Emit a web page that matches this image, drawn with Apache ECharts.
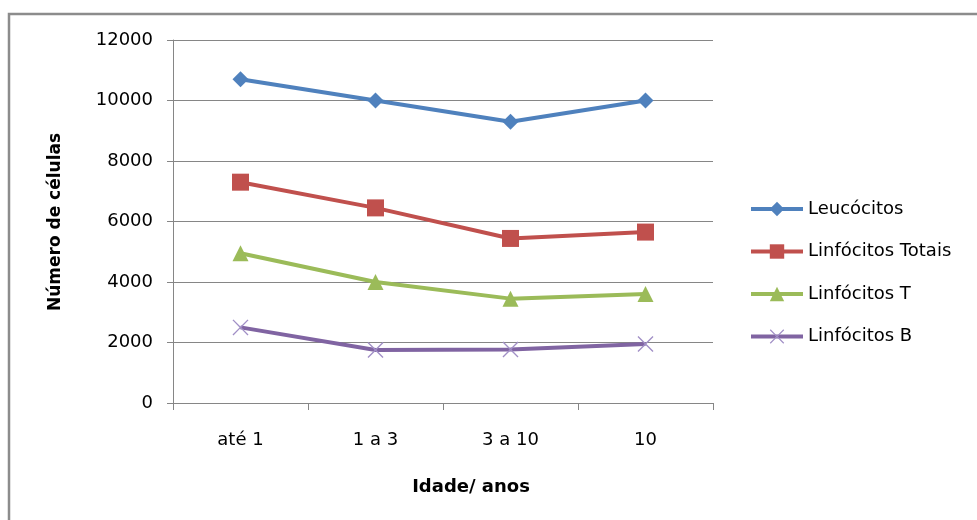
<!DOCTYPE html>
<html>
<head>
<meta charset="utf-8">
<script src="https://cdn.jsdelivr.net/npm/echarts@6/dist/echarts.min.js"></script>
<style>html,body{margin:0;padding:0;background:#fff}#c{width:977px;height:520px}</style>
</head>
<body>
<div id="c"></div>
<script>
const categories = ['até 1', '1 a 3', '3 a 10', '10'];
const leucocitos = [10700, 10000, 9300, 10000];
const linfTotais = [7300, 6450, 5440, 5650];
const linfT = [4950, 4000, 3450, 3600];
const linfB = [2500, 1750, 1770, 1950];
const seriesNames = ['Leucócitos', 'Linfócitos Totais', 'Linfócitos T', 'Linfócitos B'];

const FONT = 'DejaVu Sans';
const xSym = 'path://M0,0.6 L0.6,0 L5,4.4 L9.4,0 L10,0.6 L5.6,5 L10,9.4 L9.4,10 L5,5.6 L0.6,10 L0,9.4 L4.4,5 Z';

function mk(name, data, color, symbol, size, symColor) {
  return {
    name, type: 'line', data, symbol, symbolSize: size,
    lineStyle: { color, width: 4 },
    itemStyle: { color: symColor || color },
    emphasis: { disabled: true },
    z: 3
  };
}

const chart = echarts.init(document.getElementById('c'));
chart.setOption({
  animation: false,
  backgroundColor: '#fff',
  graphic: [
    { type: 'rect', shape: { x: 9, y: 14, width: 1000, height: 600 },
      style: { fill: 'none', stroke: '#8c8c8c', lineWidth: 2.5 }, z: -1 },
    { type: 'text', x: 56, y: 222, rotation: Math.PI / 2,
      style: { text: 'Número de células', fontFamily: FONT, fontSize: 17, fontWeight: 'bold',
               fill: '#000', textAlign: 'center', textVerticalAlign: 'middle' } }
  ],
  title: [
    { text: 'Idade/ anos', left: 466, top: 473, textAlign: 'center',
      textStyle: { fontFamily: FONT, fontSize: 18, fontWeight: 'bold', color: '#000' } }
  ],
  grid: { left: 173, top: 40, width: 540, height: 363, containLabel: false },
  legend: {
    orient: 'vertical', left: 749, top: 200, padding: 0,
    itemWidth: 52, itemHeight: 18, itemGap: 24.5,
    data: seriesNames,
    lineStyle: { width: 4 },
    textStyle: { fontFamily: FONT, fontSize: 18, color: '#000' },
    selectedMode: false
  },
  xAxis: {
    type: 'category', data: categories, boundaryGap: true,
    axisLine: { lineStyle: { color: '#868686', width: 1 } },
    axisTick: { show: true, length: 7, lineStyle: { color: '#868686' } },
    axisLabel: { fontFamily: FONT, fontSize: 18, color: '#000', margin: 28 }
  },
  yAxis: {
    type: 'value', min: 0, max: 12000, interval: 2000,
    axisLine: { show: true, lineStyle: { color: '#868686', width: 1 } },
    axisTick: { show: true, length: 6, lineStyle: { color: '#868686' } },
    axisLabel: { fontFamily: FONT, fontSize: 18, color: '#000', margin: 20, formatter: v => String(v) },
    splitLine: { lineStyle: { color: '#868686', width: 1 } }
  },
  series: [
    mk(seriesNames[0], leucocitos, '#4F81BD', 'diamond', 16),
    mk(seriesNames[1], linfTotais, '#C0504D', 'rect', 17),
    mk(seriesNames[2], linfT, '#9BBB59', 'triangle', 16),
    mk(seriesNames[3], linfB, '#8064A2', xSym, 16, '#A18FC6')
  ]
});
</script>
</body>
</html>
